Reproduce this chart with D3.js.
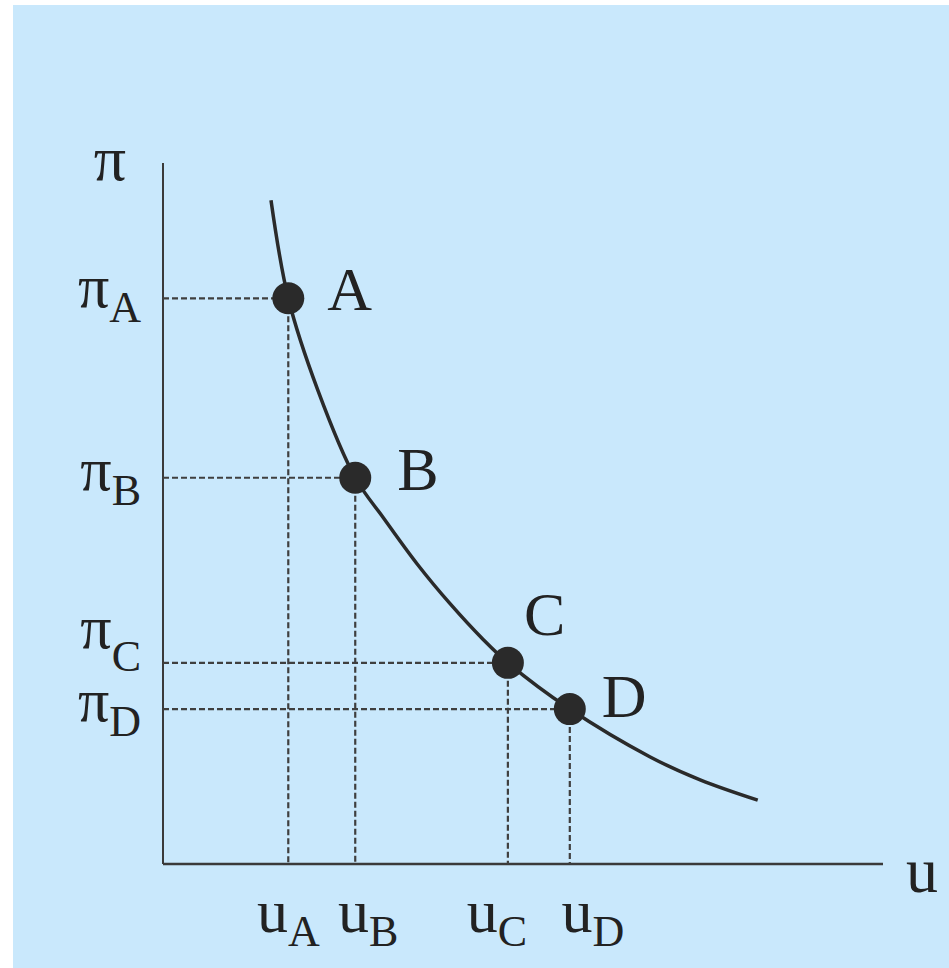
<!DOCTYPE html>
<html>
<head>
<meta charset="utf-8">
<script src="https://cdn.jsdelivr.net/npm/d3@7"></script>
<style>
  html, body { margin: 0; padding: 0; background: #ffffff; }
  svg { display: block; }
  text { font-family: "Liberation Serif", "DejaVu Serif", serif; fill: #222222; }
</style>
</head>
<body>
<div id="chart"></div>
<script>
// Curve, in chart units (u across, pi up)
let curveU  = [15.0, 17.4, 21.5, 26.7, 30.6, 35.3, 39.9, 44.4, 47.9, 56.5, 67.6, 74.6, 82.6];
let curvePi = [94.7, 80.7, 67.6, 55.1, 49.4, 42.8, 37.1, 32.1, 28.7, 22.1, 15.3, 12.0, 9.1];

// Marked points
let pointNames = ['A', 'B', 'C', 'D'];
let pointU  = [17.4, 26.7, 47.9, 56.5];
let pointPi = [80.7, 55.1, 28.7, 22.1];

let width = 949;
let height = 968;

let svg = d3.select('#chart').append('svg')
    .attr('width', width)
    .attr('height', height);

// Light blue panel
svg.append('rect')
    .attr('x', 13).attr('y', 5)
    .attr('width', width - 13).attr('height', height - 5)
    .attr('fill', '#c9e8fc');

let xScale = d3.scaleLinear().domain([0, 100]).range([163, 883]);
let yScale = d3.scaleLinear().domain([0, 100]).range([864, 163]);

let ink = '#2a2a2a';

// Axes (plain lines, no ticks)
svg.append('line')
    .attr('x1', xScale(0)).attr('y1', yScale(0))
    .attr('x2', xScale(0)).attr('y2', yScale(100))
    .attr('stroke', '#3a3a3a').attr('stroke-width', 2);
svg.append('line')
    .attr('x1', xScale(0)).attr('y1', yScale(0))
    .attr('x2', xScale(100)).attr('y2', yScale(0))
    .attr('stroke', '#3a3a3a').attr('stroke-width', 2.5);

// Dashed guides
let points = pointNames.map((n, i) => ({name: n, u: pointU[i], pi: pointPi[i]}));
let guides = svg.append('g')
    .attr('stroke', '#3f3f3f')
    .attr('stroke-width', 2.2)
    .attr('stroke-dasharray', '6,3');
guides.selectAll('.h').data(points).enter().append('line')
    .attr('x1', xScale(0)).attr('x2', d => xScale(d.u))
    .attr('y1', d => yScale(d.pi)).attr('y2', d => yScale(d.pi));
guides.selectAll('.v').data(points).enter().append('line')
    .attr('x1', d => xScale(d.u)).attr('x2', d => xScale(d.u))
    .attr('y1', d => yScale(d.pi)).attr('y2', yScale(0));

// The curve
let line = d3.line()
    .x(d => xScale(d[0]))
    .y(d => yScale(d[1]))
    .curve(d3.curveCatmullRom.alpha(0.5));
svg.append('path')
    .datum(curveU.map((u, i) => [u, curvePi[i]]))
    .attr('d', line)
    .attr('fill', 'none')
    .attr('stroke', ink)
    .attr('stroke-width', 3.5);

// Dots
svg.selectAll('circle').data(points).enter().append('circle')
    .attr('cx', d => xScale(d.u))
    .attr('cy', d => yScale(d.pi))
    .attr('r', 16)
    .attr('fill', ink);

// Point letters, placed up/right of each dot
let letterDx = [39, 42, 16, 32];
let letterDy = [12, 12, -28, 8];
svg.selectAll('.ptlabel').data(points).enter().append('text')
    .attr('class', 'ptlabel')
    .attr('x', (d, i) => xScale(d.u) + letterDx[i])
    .attr('y', (d, i) => yScale(d.pi) + letterDy[i])
    .attr('font-size', 62)
    .text(d => d.name);

// Axis titles
svg.append('text')
    .attr('x', 110).attr('y', 180)
    .attr('text-anchor', 'middle')
    .attr('font-size', 64)
    .text('\u03C0');
svg.append('text')
    .attr('x', 906).attr('y', 892)
    .attr('font-size', 64)
    .text('u');

// pi tick labels on the left
let piDy = [9, 12, -15, 12];
let piSubDy = [15, 15, 23, 15];
let piLabels = svg.selectAll('.pilabel').data(points).enter().append('text')
    .attr('class', 'pilabel')
    .attr('x', 141)
    .attr('y', (d, i) => yScale(d.pi) + piDy[i])
    .attr('text-anchor', 'end')
    .attr('font-size', 62);
piLabels.append('tspan').text('\u03C0');
piLabels.append('tspan')
    .attr('font-size', 44)
    .attr('dy', (d, i) => piSubDy[i])
    .text(d => d.name);

// u tick labels below the axis
let uDx = [0, 13, -11, 23];
let uLabels = svg.selectAll('.ulabel').data(points).enter().append('text')
    .attr('class', 'ulabel')
    .attr('x', (d, i) => xScale(d.u) + uDx[i])
    .attr('y', 932)
    .attr('text-anchor', 'middle')
    .attr('font-size', 62);
uLabels.append('tspan').text('u');
uLabels.append('tspan')
    .attr('font-size', 44)
    .attr('dy', 14)
    .text(d => d.name);
</script>
</body>
</html>
